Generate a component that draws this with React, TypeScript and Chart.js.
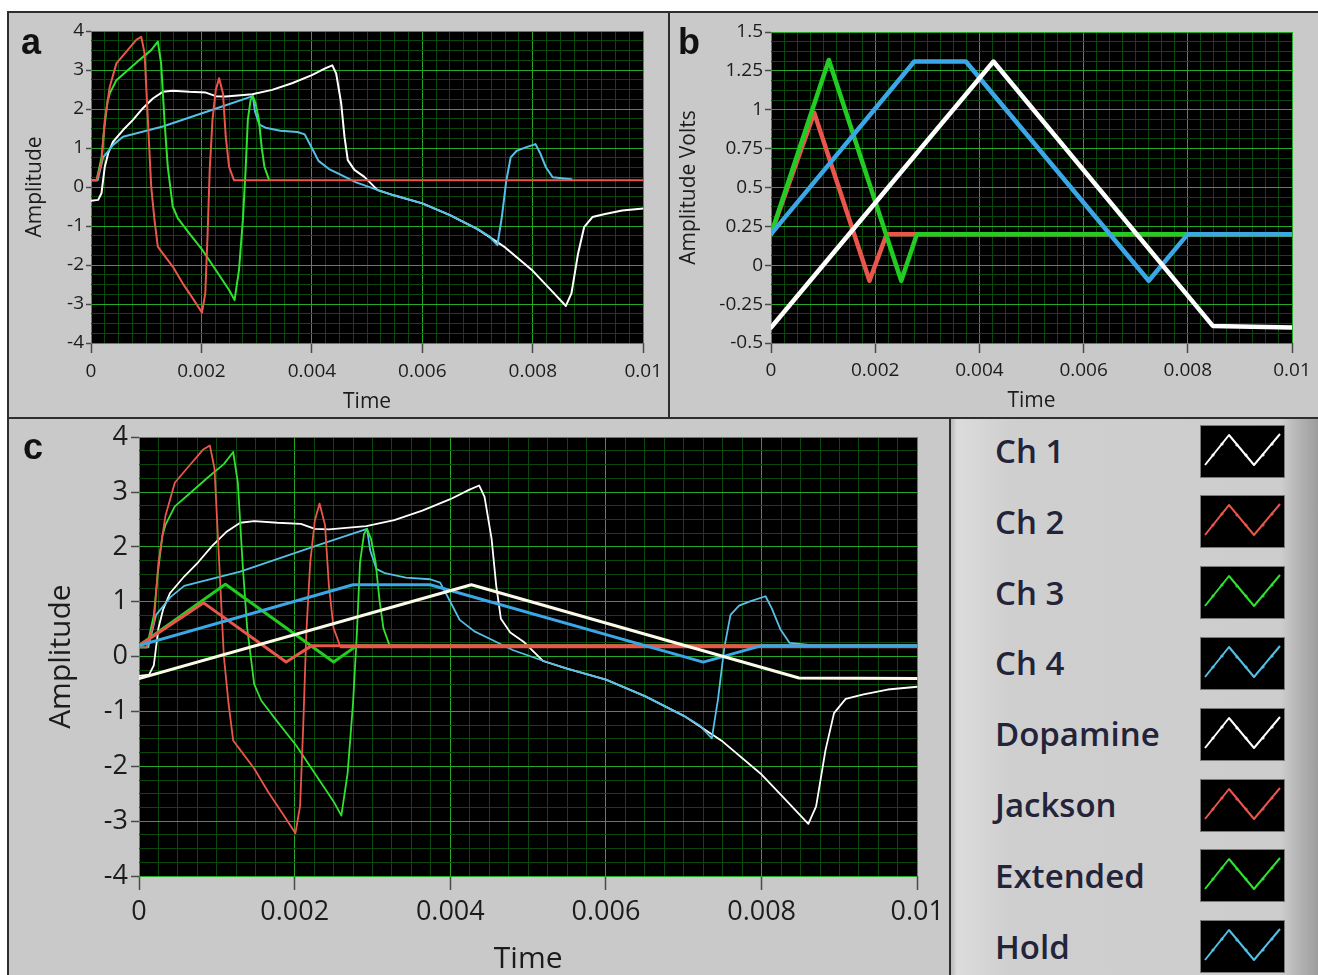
import React, { useEffect, useRef } from 'react';
import { Chart, registerables } from 'chart.js';

Chart.register(...registerables);

// ---------------- tick labels ----------------
const timeTickLabels = ['0', '0.002', '0.004', '0.006', '0.008', '0.01'];
const ampTickLabels = ['-4', '-3', '-2', '-1', '0', '1', '2', '3', '4'];
const voltTickLabels = ['-0.5', '-0.25', '0', '0.25', '0.5', '0.75', '1', '1.25', '1.5'];

// ---------------- recorded channels (panel a / c) ----------------
const ch1Time = [0, 0.00013, 0.00019, 0.00025, 0.00031, 0.0004, 0.00058, 0.00076, 0.00094, 0.00112, 0.0013, 0.00148, 0.00178, 0.00208, 0.00226, 0.00244, 0.00292, 0.00328, 0.00364, 0.004, 0.00424, 0.00437, 0.00444, 0.00453, 0.00459, 0.00465, 0.00477, 0.00495, 0.00519, 0.0055, 0.006, 0.0065, 0.007, 0.0075, 0.008, 0.0083, 0.0086, 0.0087, 0.00882, 0.00893, 0.00908, 0.00931, 0.00962, 0.01];
const ch1Amp = [-0.35, -0.33, -0.16, 0.52, 0.86, 1.16, 1.46, 1.72, 2.02, 2.27, 2.44, 2.47, 2.44, 2.42, 2.33, 2.32, 2.38, 2.49, 2.66, 2.87, 3.04, 3.12, 2.91, 2.15, 1.29, 0.69, 0.44, 0.26, -0.08, -0.22, -0.42, -0.72, -1.08, -1.55, -2.15, -2.6, -3.05, -2.73, -1.71, -1.03, -0.77, -0.69, -0.6, -0.55];

const ch2Time = [0, 0.0001, 0.00019, 0.00025, 0.00034, 0.00046, 0.00064, 0.00082, 0.00091, 0.00097, 0.00103, 0.00109, 0.00115, 0.00121, 0.0013, 0.00148, 0.00166, 0.00184, 0.00201, 0.00207, 0.00211, 0.00215, 0.0022, 0.00226, 0.00232, 0.00239, 0.00244, 0.0025, 0.00259, 0.01];
const ch2Amp = [0.17, 0.17, 0.61, 1.72, 2.57, 3.17, 3.47, 3.77, 3.85, 3.43, 1.72, 0.01, -0.85, -1.53, -1.7, -2.04, -2.47, -2.85, -3.22, -2.72, -1.27, 0.44, 1.72, 2.49, 2.79, 2.4, 1.29, 0.52, 0.17, 0.17];

const ch3Time = [0, 0.0001, 0.00019, 0.00024, 0.0003, 0.00034, 0.00046, 0.00064, 0.00088, 0.00109, 0.00121, 0.00127, 0.00133, 0.00139, 0.00148, 0.00157, 0.00178, 0.00202, 0.00226, 0.0025, 0.0026, 0.00268, 0.00275, 0.0028, 0.00284, 0.00289, 0.00293, 0.00298, 0.00304, 0.00309, 0.00314, 0.00322];
const ch3Amp = [0.17, 0.17, 0.75, 1.5, 2.2, 2.4, 2.74, 2.96, 3.26, 3.51, 3.73, 3.17, 1.72, 0.52, -0.5, -0.8, -1.19, -1.62, -2.13, -2.64, -2.9, -2.13, -0.85, 0.44, 1.72, 2.23, 2.33, 2.15, 1.72, 1.03, 0.52, 0.2];

const ch4Time = [0, 0.00012, 0.00022, 0.00034, 0.0004, 0.00058, 0.0013, 0.00232, 0.00293, 0.00297, 0.00305, 0.00316, 0.00343, 0.00374, 0.00387, 0.004, 0.00412, 0.00431, 0.0045, 0.0048, 0.0052, 0.0055, 0.006, 0.0065, 0.007, 0.0072, 0.00736, 0.00744, 0.00752, 0.0076, 0.00771, 0.00786, 0.00805, 0.00813, 0.00824, 0.00836, 0.0087];
const ch4Amp = [0.17, 0.17, 0.76, 0.97, 1.08, 1.29, 1.55, 2.04, 2.33, 1.94, 1.6, 1.52, 1.44, 1.41, 1.35, 1.0, 0.67, 0.46, 0.33, 0.12, -0.08, -0.22, -0.42, -0.72, -1.08, -1.25, -1.49, -0.77, 0.16, 0.76, 0.93, 1.01, 1.1, 0.88, 0.5, 0.25, 0.2];

// ---------------- applied waveforms (panel b / c) ----------------
const dopamineTime = [0, 0.00427, 0.00848, 0.01];
const dopamineVolts = [-0.4, 1.31, -0.39, -0.4];
const jacksonTime = [0, 0.00083, 0.00189, 0.00222, 0.01];
const jacksonVolts = [0.2, 0.98, -0.1, 0.2, 0.2];
const extendedTime = [0, 0.00111, 0.0025, 0.0028, 0.01];
const extendedVolts = [0.2, 1.32, -0.1, 0.2, 0.2];
const holdTime = [0, 0.00275, 0.00374, 0.00725, 0.008, 0.01];
const holdVolts = [0.2, 1.31, 1.31, -0.1, 0.2, 0.2];

const legendNames = ['Ch 1', 'Ch 2', 'Ch 3', 'Ch 4', 'Dopamine', 'Jackson', 'Extended', 'Hold'];

// ---------------- styles ----------------
const WHITE = '#ffffff';
const RED = '#ea554c';
const GREEN = '#2fe22f';
const GREEN_THICK = '#22cc22';
const CYAN = '#55bfe6';
const BLUE = '#3ba7e6';
const legendColors = [WHITE, RED, GREEN, CYAN, WHITE, RED, GREEN, CYAN];
const GRID_MAJOR = '#26a826';
const GRID_MINOR = '#0b480b';
const PANEL_GRAY = '#c9c9c9';
const FONT = "'Open Sans', 'DejaVu Sans', sans-serif";

const pts = (t: number[], v: number[]) => t.map((x, i) => ({ x, y: v[i] }));

const line = (label: string, t: number[], v: number[], color: string, width: number) => ({
  label,
  data: pts(t, v),
  borderColor: color,
  borderWidth: width,
  pointRadius: 0,
  fill: false,
  tension: 0,
  borderJoinStyle: 'round' as const,
  borderCapStyle: 'round' as const,
});

type PanelCfg = {
  x: number; y: number; w: number; h: number;
  area: { left: number; top: number; right: number; bottom: number };
  xLabels: string[]; xMinor: number;
  yLabels: string[]; yMinor: number;
  xTitle: string; yTitle: string;
  tickSize: number; titleSize: number;
  yTickLen: number; yTickPad: number; xTickLen: number; xTickPad: number;
  yTitleCx: number; xTitleCy: number;
  datasets: any[];
};

const makeTicks = (min: number, max: number, step: number) => {
  const n = Math.round((max - min) / step);
  const out: { value: number }[] = [];
  for (let i = 0; i <= n; i++) out.push({ value: +(min + i * step).toFixed(8) });
  return out;
};

const findLabel = (labels: string[], v: number | undefined) => {
  if (v === undefined || v === null) return null;
  for (const l of labels) if (Math.abs(Number(l) - v) < 1e-9) return l;
  return null;
};

const plotBg = {
  id: 'plotBg',
  beforeDraw(chart: any) {
    const { ctx, chartArea: a } = chart;
    ctx.save();
    ctx.fillStyle = '#000000';
    ctx.fillRect(a.left, a.top, a.right - a.left, a.bottom - a.top);
    ctx.restore();
  },
};

function PlotPanel({ cfg }: { cfg: PanelCfg }) {
  const ref = useRef<HTMLCanvasElement>(null);
  useEffect(() => {
    const canvas = ref.current;
    if (!canvas) return;
    const xNums = cfg.xLabels.map(Number);
    const yNums = cfg.yLabels.map(Number);
    const xMin = Math.min(...xNums), xMax = Math.max(...xNums);
    const yMin = Math.min(...yNums), yMax = Math.max(...yNums);
    const titleLH = cfg.titleSize * 1.2;
    const axisCommon = (labels: string[], tl: number, pad: number) => ({
      type: 'linear' as const,
      border: { display: false },
      grid: {
        color: (c: any) => (findLabel(labels, c.tick?.value) !== null ? GRID_MAJOR : GRID_MINOR),
        tickColor: (c: any) => (findLabel(labels, c.tick?.value) !== null ? '#4a4a4a' : 'rgba(0,0,0,0)'),
        lineWidth: 1,
        tickWidth: 1.5,
        tickLength: tl,
        drawTicks: true,
      },
      ticks: {
        autoSkip: false,
        maxRotation: 0,
        minRotation: 0,
        padding: pad,
        color: '#1c1c1c',
        font: { family: FONT, size: cfg.tickSize },
        callback: (v: any) => findLabel(labels, Number(v)) ?? '',
      },
    });
    const chart = new Chart(canvas, {
      type: 'line',
      data: { datasets: cfg.datasets },
      plugins: [plotBg],
      options: {
        responsive: false,
        animation: false,
        events: [],
        layout: {
          padding: { left: 0, top: cfg.area.top, right: cfg.w - cfg.area.right, bottom: 0 },
        },
        plugins: { legend: { display: false }, tooltip: { enabled: false } },
        scales: {
          x: {
            ...axisCommon(cfg.xLabels, cfg.xTickLen, cfg.xTickPad),
            min: xMin,
            max: xMax,
            afterBuildTicks: (s: any) => { s.ticks = makeTicks(xMin, xMax, cfg.xMinor); },
            afterFit: (s: any) => { s.height = cfg.h - cfg.area.bottom; },
            title: {
              display: true,
              text: cfg.xTitle,
              color: '#1c1c1c',
              font: { family: FONT, size: cfg.titleSize },
              padding: { top: 0, bottom: cfg.h - cfg.xTitleCy - titleLH / 2 },
            },
          },
          y: {
            ...axisCommon(cfg.yLabels, cfg.yTickLen, cfg.yTickPad),
            min: yMin,
            max: yMax,
            afterBuildTicks: (s: any) => { s.ticks = makeTicks(yMin, yMax, cfg.yMinor); },
            afterFit: (s: any) => { s.width = cfg.area.left; },
            title: {
              display: true,
              text: cfg.yTitle,
              color: '#1c1c1c',
              font: { family: FONT, size: cfg.titleSize },
              padding: { top: cfg.yTitleCx - titleLH / 2, bottom: 0 },
            },
          },
        },
      } as any,
    });
    return () => chart.destroy();
  }, [cfg]);
  return (
    <canvas
      ref={ref}
      width={cfg.w}
      height={cfg.h}
      style={{ position: 'absolute', left: cfg.x, top: cfg.y, width: cfg.w, height: cfg.h }}
    />
  );
}

const panelA: PanelCfg = {
  x: 8, y: 12, w: 661, h: 406,
  area: { left: 83, top: 19, right: 640, bottom: 331 },
  xLabels: timeTickLabels, xMinor: 0.00025,
  yLabels: ampTickLabels, yMinor: 0.25,
  xTitle: 'Time', yTitle: 'Amplitude',
  tickSize: 19, titleSize: 21,
  yTickLen: 5, yTickPad: 2, xTickLen: 10, xTickPad: 7,
  yTitleCx: 27, xTitleCy: 390,
  datasets: [
    line('Ch 2', ch2Time, ch2Amp, RED, 2),
    line('Ch 3', ch3Time, ch3Amp, GREEN, 2),
    line('Ch 4', ch4Time, ch4Amp, CYAN, 2),
    line('Ch 1', ch1Time, ch1Amp, WHITE, 2),
  ],
};

const panelB: PanelCfg = {
  x: 669, y: 12, w: 649, h: 406,
  area: { left: 102, top: 20, right: 623, bottom: 331 },
  xLabels: timeTickLabels, xMinor: 0.00025,
  yLabels: voltTickLabels, yMinor: 0.0625,
  xTitle: 'Time', yTitle: 'Amplitude Volts',
  tickSize: 19, titleSize: 21,
  yTickLen: 6, yTickPad: 2, xTickLen: 10, xTickPad: 6,
  yTitleCx: 20, xTitleCy: 389,
  datasets: [
    line('Dopamine', dopamineTime, dopamineVolts, WHITE, 4.5),
    line('Hold', holdTime, holdVolts, BLUE, 4.5),
    line('Extended', extendedTime, extendedVolts, GREEN_THICK, 4.5),
    line('Jackson', jacksonTime, jacksonVolts, RED, 4.5),
  ],
};

const panelC: PanelCfg = {
  x: 8, y: 418, w: 942, h: 557,
  area: { left: 131, top: 19, right: 910, bottom: 458 },
  xLabels: timeTickLabels, xMinor: 0.00025,
  yLabels: ampTickLabels, yMinor: 0.25,
  xTitle: 'Time', yTitle: 'Amplitude',
  tickSize: 27, titleSize: 30,
  yTickLen: 8, yTickPad: 3, xTickLen: 14, xTickPad: 6,
  yTitleCx: 53, xTitleCy: 541,
  datasets: [
    line('Dopamine', dopamineTime, dopamineVolts, '#fbfbe8', 3),
    line('Hold', holdTime, holdVolts, BLUE, 3),
    line('Jackson', jacksonTime, jacksonVolts, RED, 3),
    line('Extended', extendedTime, extendedVolts, GREEN_THICK, 3),
    line('Ch 2', ch2Time, ch2Amp, RED, 1.8),
    line('Ch 3', ch3Time, ch3Amp, GREEN, 1.8),
    line('Ch 4', ch4Time, ch4Amp, CYAN, 1.8),
    line('Ch 1', ch1Time, ch1Amp, WHITE, 1.8),
  ],
};

const Swatch = ({ color }: { color: string }) => (
  <svg width={85} height={53} style={{ display: 'block' }}>
    <rect x={0.5} y={0.5} width={84} height={52} fill="#000" stroke="#7a7a7a" strokeWidth={1} />
    <polyline points="5,40 29,10 54,40 80,9" fill="none" stroke={color} strokeWidth={2} strokeLinejoin="round" />
    {[[13, 30], [22, 19], [37, 20], [46, 30], [63, 30], [72, 19]].map(([cx, cy], i) => (
      <circle key={i} cx={cx} cy={cy} r={1.6} fill={color} opacity={0.9} />
    ))}
  </svg>
);

const letterStyle = (left: number, top: number): React.CSSProperties => ({
  position: 'absolute',
  left,
  top,
  fontFamily: "'Liberation Sans', Arial, sans-serif",
  fontWeight: 700,
  fontSize: 36,
  lineHeight: '36px',
  color: '#111',
});

const hLine = (left: number, top: number, width: number): React.CSSProperties => ({
  position: 'absolute', left, top, width, height: 2, background: '#2e2e2e',
});
const vLine = (left: number, top: number, height: number): React.CSSProperties => ({
  position: 'absolute', left, top, width: 2, height, background: '#2e2e2e',
});

export default function App() {
  return (
    <div
      style={{
        position: 'absolute', left: 0, top: 0, width: 1318, height: 975,
        background: '#ffffff', overflow: 'hidden',
      }}
    >
      <div style={{ position: 'absolute', left: 8, top: 12, width: 1310, height: 963, background: PANEL_GRAY }} />
      <div
        style={{
          position: 'absolute', left: 951, top: 419, width: 367, height: 556,
          background: 'linear-gradient(to right, #b9b9b9 0px, #dcdcdc 6px, #d6d6d6 30px, #cfcfcf 60px, #cdcdcd 330px, #b8b8b8 345px, #9c9c9c 367px)',
        }}
      />

      <PlotPanel cfg={panelA} />
      <PlotPanel cfg={panelB} />
      <PlotPanel cfg={panelC} />

      <div style={hLine(7, 11, 1311)} />
      <div style={vLine(7, 11, 964)} />
      <div style={vLine(668, 11, 408)} />
      <div style={hLine(7, 417, 1311)} />
      <div style={vLine(949, 417, 558)} />

      <div style={letterStyle(21, 24)}>a</div>
      <div style={letterStyle(678, 24)}>b</div>
      <div style={letterStyle(23, 429)}>c</div>

      {legendNames.map((name, i) => {
        const cy = 451 + i * 70.8;
        return (
          <React.Fragment key={name}>
            <div
              style={{
                position: 'absolute', left: 995, top: cy - 22, height: 44, lineHeight: '44px',
                fontFamily: FONT, fontWeight: 600, fontSize: 33, color: '#23233a', whiteSpace: 'nowrap',
              }}
            >
              {name}
            </div>
            <div style={{ position: 'absolute', left: 1200, top: cy - 26.5 }}>
              <Swatch color={legendColors[i]} />
            </div>
          </React.Fragment>
        );
      })}
    </div>
  );
}
